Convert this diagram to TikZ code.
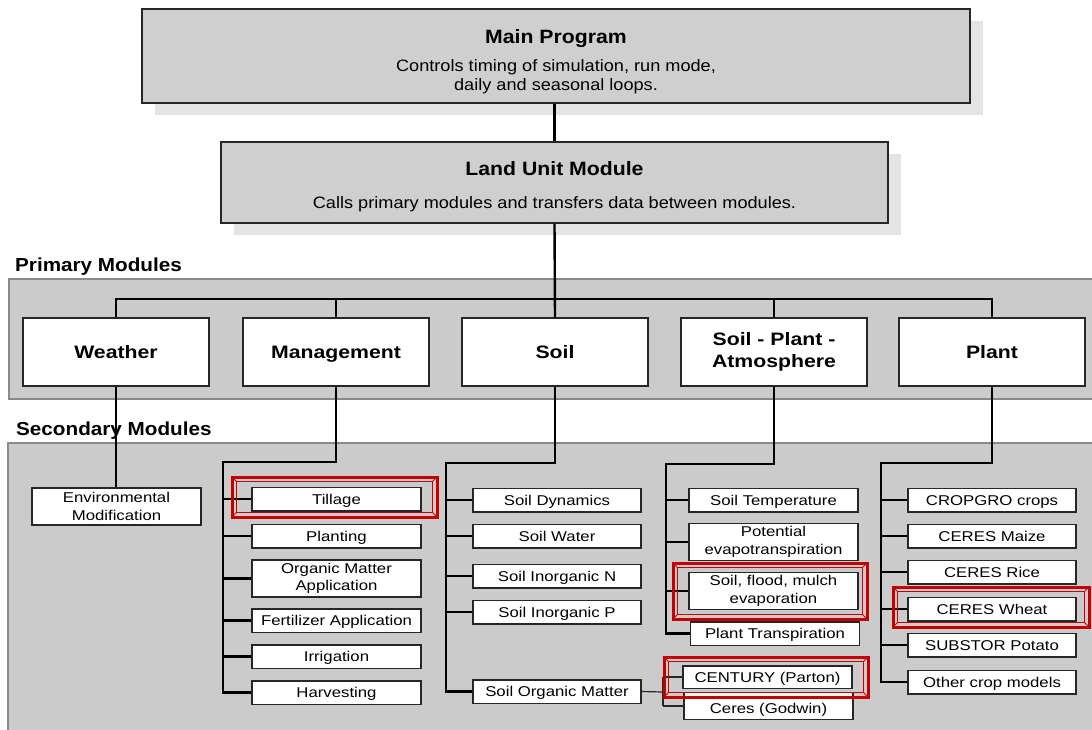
\documentclass[tikz,border=0pt]{standalone}
\usepackage{fontspec}
\setmainfont{Liberation Sans}[FakeStretch=1.1]
\newfontfamily\widefont{Liberation Sans}[FakeStretch=1.18]
\usetikzlibrary{shadows}

\definecolor{boxgray}{HTML}{CFCFCF}
\definecolor{shadowgray}{HTML}{E4E4E4}
\definecolor{panelgray}{HTML}{CBCBCB}
\definecolor{paneledge}{HTML}{8A8A8A}
\definecolor{edgedark}{HTML}{262626}
\definecolor{hlred}{HTML}{C40000}

\newcommand\titlef{\fontsize{19.3}{22}\selectfont\bfseries}
\newcommand\subf{\fontsize{16.5}{19}\selectfont}
\newcommand\sectf{\fontsize{18.8}{22}\selectfont\bfseries}
\newcommand\primf{\widefont\fontsize{18}{22}\selectfont\bfseries}
\newcommand\secf{\widefont\fontsize{14.2}{17.5}\selectfont}

% double red frame with bevelled corners: x1 y1 x2 y2
\newcommand\redframe[4]{%
  \draw[hlred, line width=3pt] (#1,#2) rectangle (#3,#4);
  \draw[hlred, line width=1.4pt] (#1+4.5,#2+4.5) rectangle (#3-4.5,#4-4.5);
  \draw[hlred, line width=0.8pt]
    (#1,#2) -- (#1+4.5,#2+4.5) (#3,#2) -- (#3-4.5,#2+4.5)
    (#1,#4) -- (#1+4.5,#4-4.5) (#3,#4) -- (#3-4.5,#4-4.5);
}

\tikzset{
  bigbox/.style={draw=edgedark, line width=1.8pt, fill=boxgray, align=center,
    inner sep=0pt, font=\subf,
    general shadow={fill=shadowgray, shadow xshift=13pt, shadow yshift=-12pt}},
  panel/.style={draw=paneledge, line width=1.8pt, fill=panelgray},
  primbox/.style={draw=edgedark, line width=1.5pt, fill=white, align=center,
    inner sep=0pt, minimum width=186pt, minimum height=68pt, font=\primf},
  oneline/.style={text height=12.9pt, text depth=0pt},
  secbox/.style={draw=edgedark, line width=1.5pt, fill=white, align=center,
    inner sep=0pt, minimum width=169pt, minimum height=23.5pt, font=\secf},
  single/.style={text height=10.2pt, text depth=0pt},
  tall/.style={minimum height=37pt},
  section/.style={anchor=west, inner sep=0pt, font=\sectf},
  wire/.style={draw=black, line width=2.4pt},
  thinwire/.style={draw=black!85, line width=1.2pt},
}

\begin{document}
\begin{tikzpicture}[x=1pt, y=-1pt]
\useasboundingbox (0,0) rectangle (1092,729);

% ---- background panels
\fill[white] (0,0) rectangle (1092,729);
\draw[panel] (9,279) rectangle (1110,399);
\draw[panel] (8,443) rectangle (1110,760);

% ---- top level boxes
\node[bigbox, minimum width=828pt, minimum height=94pt] (main) at (556,56)
  {\rule{0pt}{25pt}\titlef Main Program\\[9pt]
   \subf Controls timing of simulation, run mode,\\
   \subf daily and seasonal loops.};
\node[bigbox, minimum width=667pt, minimum height=81pt] (land) at (554.5,182.5)
  {\rule{0pt}{22pt}\titlef Land Unit Module\\[14pt]
   \subf Calls primary modules and transfers data between modules.};

% ---- section titles
\node[section] (primlbl) at (15,267) {Primary Modules};

% ---- primary modules
\node[primbox, oneline] (weather) at (116,352) {Weather};
\node[primbox, oneline] (mgmt)    at (336,352) {Management};
\node[primbox, oneline] (soil)    at (555,352) {Soil};
\node[primbox] (spa)     at (774,352) {Soil - Plant -\\Atmosphere};
\node[primbox, oneline] (plant)   at (992,352) {Plant};

% ---- secondary modules: weather
\node[secbox, tall] (env) at (116.5,506.5) {Environmental\\Modification};

% ---- secondary modules: management
\node[secbox, single] (till)  at (336.5,499) {Tillage};
\node[secbox, single] (plantg) at (336.5,536) {Planting};
\node[secbox, tall] (orgm) at (336.5,578.5) {Organic Matter\\Application};
\node[secbox, single] (fert)  at (336.5,620.5) {Fertilizer Application};
\node[secbox, single] (irr)   at (336.5,656.5) {Irrigation};
\node[secbox, single] (harv)  at (336.5,692.5) {Harvesting};

% ---- secondary modules: soil
\node[secbox, single, minimum width=168pt] (sdyn) at (557,500) {Soil Dynamics};
\node[secbox, single, minimum width=168pt] (swat) at (557,536) {Soil Water};
\node[secbox, single, minimum width=168pt] (sinn) at (557,576) {Soil Inorganic N};
\node[secbox, single, minimum width=168pt] (sinp) at (557,612) {Soil Inorganic P};
\node[secbox, single, minimum width=168pt] (som)  at (557,691.5) {Soil Organic Matter};
\node[secbox, single, minimum height=27pt] (ceres) at (768.5,706) {\raisebox{-2pt}{Ceres (Godwin)}};
\node[secbox, single, minimum height=22.5pt] (century) at (767.5,677) {CENTURY (Parton)};

% ---- secondary modules: soil-plant-atmosphere
\node[secbox, single] (stemp) at (773.5,500) {Soil Temperature};
\node[secbox, tall] (pet) at (773.5,542) {Potential\\evapotranspiration};
\node[secbox, tall] (sfme) at (773.5,591) {Soil, flood, mulch\\evaporation};
\node[secbox, single] (ptr) at (775,633.5) {Plant Transpiration};

% ---- secondary modules: plant
\node[secbox, single, minimum width=168pt] (cgro)  at (992,500) {CROPGRO crops};
\node[secbox, single, minimum width=168pt] (cmaz)  at (992,536) {CERES Maize};
\node[secbox, single, minimum width=168pt] (crice) at (992,572) {CERES Rice};
\node[secbox, single, minimum width=168pt] (cwht)  at (992,609) {CERES Wheat};
\node[secbox, single, minimum width=168pt] (spot)  at (992,645) {SUBSTOR Potato};
\node[secbox, single, minimum width=168pt] (other) at (992,682) {Other crop models};

% ---- trunk coordinates
\coordinate (bus)  at (116,299);
\coordinate (mT)   at (223,462);
\coordinate (sT)   at (446,463);
\coordinate (aT)   at (666,464);
\coordinate (pT)   at (881,463);
\coordinate (omT)  at (663,692);

% ---- connectors between the top levels
\draw[wire] (main.south -| land.north) -- (land.north);
\draw[wire] (land.south) -- (soil.north);
\draw[wire] (weather.north) -- (weather.north |- bus) -| (plant.north);
\draw[wire] (mgmt.north) -- (mgmt.north |- bus);
\draw[wire] (spa.north) -- (spa.north |- bus);

% ---- weather
\draw[wire] (weather.south) -- (env.north -| weather.south);

% ---- management tree
\draw[wire] (mgmt.south) |- (mT) -- (mT |- harv.west) -- (harv.west);
\foreach \n in {till,plantg,orgm,fert,irr}
  \draw[wire] (mT |- \n.west) -- (\n.west);

% ---- soil tree
\draw[wire] (soil.south) |- (sT) -- (sT |- som.west) -- (som.west);
\foreach \n in {sdyn,swat,sinn,sinp}
  \draw[wire] (sT |- \n.west) -- (\n.west);
\draw[thinwire] (som.east) -- (omT);
\draw[thinwire] (omT |- century.west) -- (omT |- ceres.west);
\draw[thinwire] (omT |- century.west) -- (century.west);
\draw[thinwire] (omT |- ceres.west) -- (ceres.west);

% ---- soil-plant-atmosphere tree
\draw[wire] (spa.south) |- (aT) -- (aT |- ptr.west) -- (ptr.west);
\foreach \n in {stemp,pet,sfme}
  \draw[wire] (aT |- \n.west) -- (\n.west);

% ---- plant tree
\draw[wire] (plant.south) |- (pT) -- (pT |- other.west) -- (other.west);
\foreach \n in {cgro,cmaz,crice,cwht,spot}
  \draw[wire] (pT |- \n.west) -- (\n.west);

\node[section] (seclbl) at (16,431) {Secondary Modules};

% ---- highlighted modules
\redframe{232}{477}{437}{517}
\redframe{673}{563}{867}{619}
\redframe{664}{657}{868}{697}
\redframe{893}{587}{1089}{627}
\end{tikzpicture}
\end{document}
